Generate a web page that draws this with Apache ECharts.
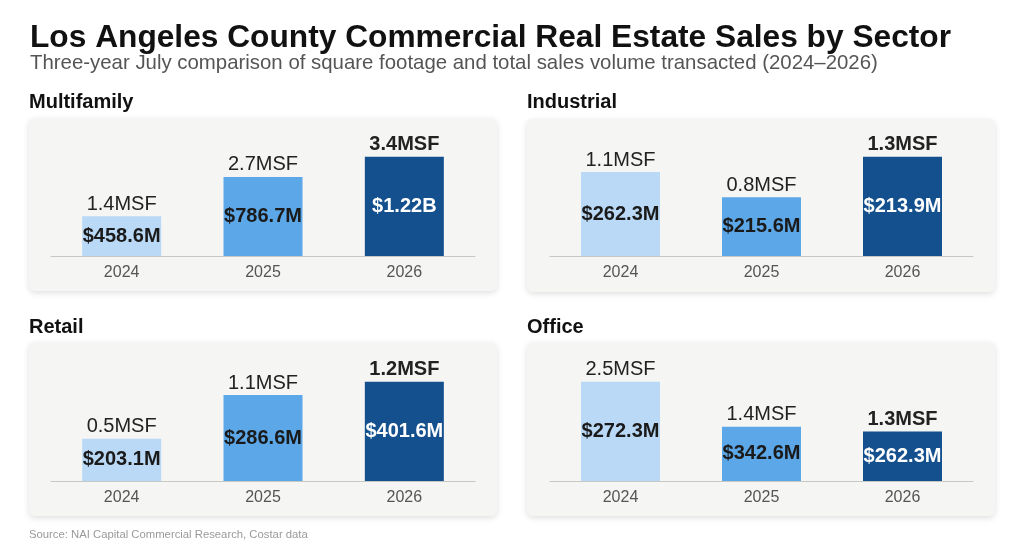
<!DOCTYPE html>
<html>
<head>
<meta charset="utf-8">
<script src="https://cdn.jsdelivr.net/npm/echarts@6/dist/echarts.min.js"></script>
<style>
html,body{margin:0;padding:0;background:#fff;}
#c{width:1024px;height:550px;}
</style>
</head>
<body>
<div id="c"></div>
<script>
// ---- data ----
const years = ['2024', '2025', '2026'];
const sectors = ['Multifamily', 'Industrial', 'Retail', 'Office'];

const multifamilyMsf = [1.36, 2.71, 3.4];
const multifamilyMsfLabels = ['1.4MSF', '2.7MSF', '3.4MSF'];
const multifamilySales = ['$458.6M', '$786.7M', '$1.22B'];

const industrialMsf = [1.1, 0.77, 1.3];
const industrialMsfLabels = ['1.1MSF', '0.8MSF', '1.3MSF'];
const industrialSales = ['$262.3M', '$215.6M', '$213.9M'];

const retailMsf = [0.51, 1.04, 1.2];
const retailMsfLabels = ['0.5MSF', '1.1MSF', '1.2MSF'];
const retailSales = ['$203.1M', '$286.6M', '$401.6M'];

const officeMsf = [2.5, 1.37, 1.25];
const officeMsfLabels = ['2.5MSF', '1.4MSF', '1.3MSF'];
const officeSales = ['$272.3M', '$342.6M', '$262.3M'];

const titleText = 'Los Angeles County Commercial Real Estate Sales by Sector';
const subtitleText = 'Three-year July comparison of square footage and total sales volume transacted (2024\u20132026)';
const sourceText = 'Source: NAI Capital Commercial Research, Costar data';

// ---- styling / layout ----
const FONT = '"Liberation Sans", Arial, Helvetica, sans-serif';
const barColors = ['#b9d9f6', '#5ca7e7', '#13508d'];
const insideColors = ['#1a1a1a', '#1a1a1a', '#ffffff'];

const panels = [
  { name: sectors[0], msf: multifamilyMsf, msfLabels: multifamilyMsfLabels, sales: multifamilySales,
    card: [29, 118, 468, 173], title: [29, 92], grid: { left: 51, width: 424, top: 132, height: 124 } },
  { name: sectors[1], msf: industrialMsf, msfLabels: industrialMsfLabels, sales: industrialSales,
    card: [527, 119, 468, 173], title: [527, 92], grid: { left: 550, width: 423, top: 132, height: 124 } },
  { name: sectors[2], msf: retailMsf, msfLabels: retailMsfLabels, sales: retailSales,
    card: [29, 342, 468, 174], title: [29, 317], grid: { left: 51, width: 424, top: 357, height: 124 } },
  { name: sectors[3], msf: officeMsf, msfLabels: officeMsfLabels, sales: officeSales,
    card: [527, 342, 468, 174], title: [527, 317], grid: { left: 550, width: 423, top: 357, height: 124 } }
];

const titles = [
  { text: titleText, left: 30, top: 22, padding: 0,
    textStyle: { fontFamily: FONT, fontSize: 31.7, fontWeight: 'bold', color: '#111' } },
  { text: subtitleText, left: 30, top: 53, padding: 0,
    textStyle: { fontFamily: FONT, fontSize: 20.4, fontWeight: 'normal', color: '#555' } },
  { text: sourceText, left: 29, top: 529.5, padding: 0,
    textStyle: { fontFamily: FONT, fontSize: 11.3, fontWeight: 'normal', color: '#9a9a9a' } }
];
const graphics = [];
const grids = [], xAxes = [], yAxes = [], series = [];

panels.forEach((p, i) => {
  titles.push({ text: p.name, left: p.title[0], top: p.title[1], padding: 0,
    textStyle: { fontFamily: FONT, fontSize: 20, fontWeight: 'bold', color: '#111' } });
  graphics.push({
    type: 'rect', z: -10,
    shape: { x: p.card[0], y: p.card[1], width: p.card[2], height: p.card[3], r: 6 },
    style: { fill: '#f5f5f3', shadowBlur: 6, shadowColor: 'rgba(0,0,0,0.13)', shadowOffsetY: 2 }
  });
  grids.push(Object.assign({ containLabel: false }, p.grid));
  xAxes.push({
    type: 'category', gridIndex: i, data: years,
    axisLine: { lineStyle: { color: '#c8c8c2', width: 1 } },
    axisTick: { show: false },
    axisLabel: { fontFamily: FONT, fontSize: 16, color: '#555', margin: 9 }
  });
  yAxes.push({
    type: 'value', gridIndex: i, min: 0, max: v => v.max * 1.25,
    show: false, splitLine: { show: false }
  });
  series.push({
    type: 'bar', xAxisIndex: i, yAxisIndex: i, barWidth: 79, silent: true,
    data: p.msf.map((v, k) => ({
      value: v,
      itemStyle: { color: barColors[k] },
      label: { color: insideColors[k] }
    })),
    label: {
      show: true, position: 'inside', fontFamily: FONT, fontSize: 20, fontWeight: 'bold',
      formatter: prm => p.sales[prm.dataIndex]
    },
    z: 2
  });
  series.push({
    type: 'bar', xAxisIndex: i, yAxisIndex: i, barWidth: 79, barGap: '-100%', silent: true,
    data: p.msf.map((v, k) => ({
      value: v,
      itemStyle: { color: 'rgba(0,0,0,0)' },
      label: { fontWeight: k === 2 ? 'bold' : 'normal' }
    })),
    label: {
      show: true, position: 'top', distance: 2, fontFamily: FONT, fontSize: 20, color: '#222',
      formatter: prm => p.msfLabels[prm.dataIndex]
    },
    z: 3
  });
});

const chart = echarts.init(document.getElementById('c'), null, { renderer: 'canvas' });
chart.setOption({
  animation: false,
  backgroundColor: '#ffffff',
  title: titles,
  graphic: graphics,
  grid: grids,
  xAxis: xAxes,
  yAxis: yAxes,
  series: series
});
</script>
</body>
</html>
